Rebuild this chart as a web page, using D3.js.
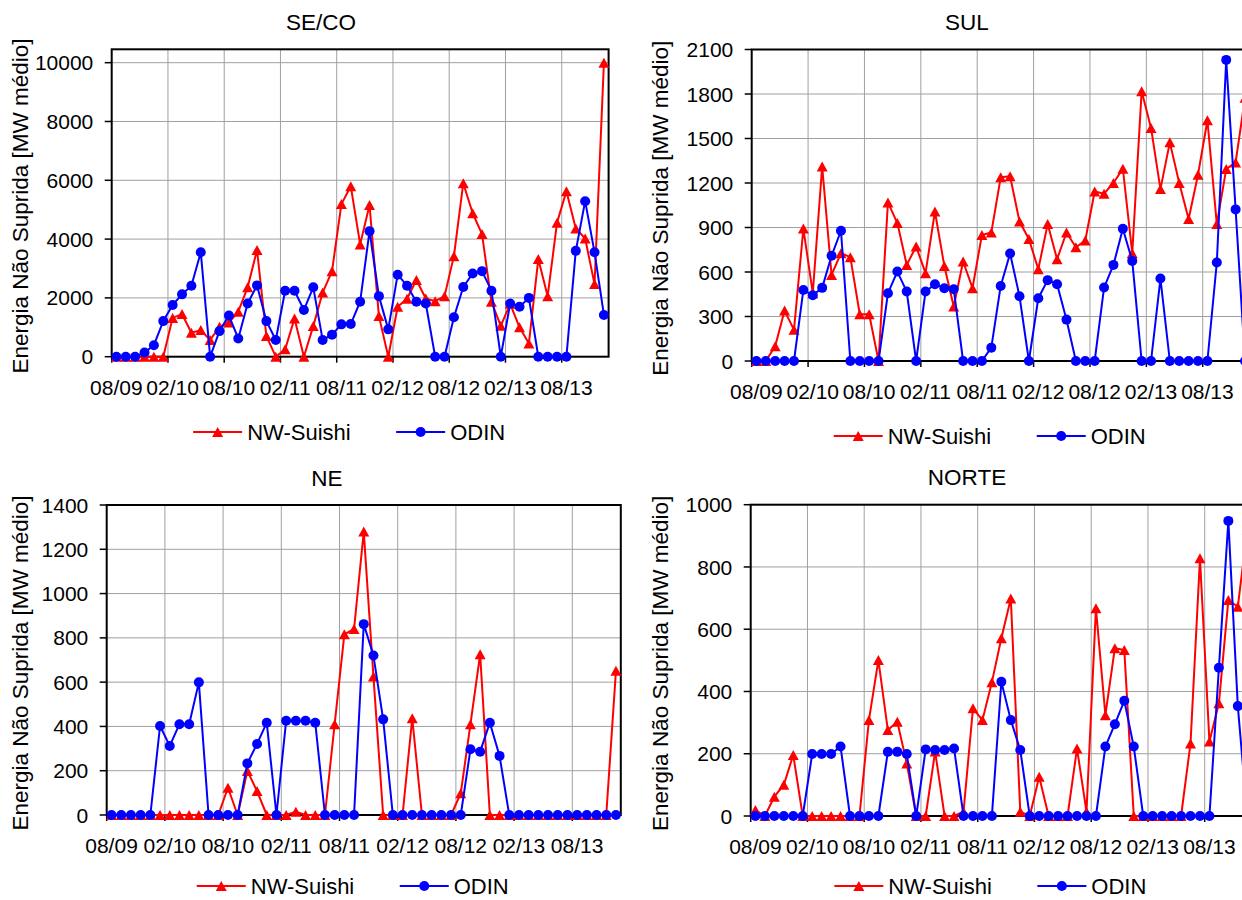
<!DOCTYPE html>
<html>
<head>
<meta charset="utf-8">
<script src="https://cdn.jsdelivr.net/npm/d3@7"></script>
<style>
  body { margin: 0; background: #fff; }
  svg { display: block; }
  text { font-family: "Liberation Sans", Arial, Helvetica, sans-serif; fill: #000; }
</style>
</head>
<body>
<svg id="chart" width="1242" height="900"></svg>
<script>
// Monthly categories, Aug 2009 – Dec 2013
const months = [
  "08/09","09/09","10/09","11/09","12/09",
  "01/10","02/10","03/10","04/10","05/10","06/10","07/10","08/10","09/10","10/10","11/10","12/10",
  "01/11","02/11","03/11","04/11","05/11","06/11","07/11","08/11","09/11","10/11","11/11","12/11",
  "01/12","02/12","03/12","04/12","05/12","06/12","07/12","08/12","09/12","10/12","11/12","12/12",
  "01/13","02/13","03/13","04/13","05/13","06/13","07/13","08/13","09/13","10/13","11/13","12/13"
];
// labelled categories (every six months)
const xTickLabels = ["08/09","02/10","08/10","02/11","08/11","02/12","08/12","02/13","08/13"];
const seriesNames = ["NW-Suishi", "ODIN"];

// SE/CO – energia não suprida [MW médio]
const secoNW = [0,0,0,0,0,0,1320,1450,815,905,570,1020,1160,1530,2360,3630,700,0,250,1300,0,1040,2180,2910,5190,5800,
  3820,5160,1380,0,1700,1970,2610,1980,1890,2060,3420,5900,4880,4170,1870,1050,1800,1000,450,3320,2060,4560,5630,4360,4020,2470,10000];
const secoODIN = [0,0,0,140,390,1210,1760,2120,2415,3550,0,870,1400,620,1810,2425,1210,570,2245,2245,1590,2360,570,750,1100,1110,
  1870,4270,2060,930,2790,2415,1870,1810,0,0,1340,2370,2830,2910,2245,0,1810,1700,2000,0,0,0,0,3600,5290,3550,1420];
const secoTicks = [0,2000,4000,6000,8000,10000];

// SUL
const sulNW = [0,0,100,340,210,893,457,1312,580,727,700,315,315,0,1069,930,648,772,592,1008,641,367,671,491,850,866,
  1238,1245,941,822,619,923,686,866,767,812,1143,1128,1200,1296,727,1818,1571,1159,1474,1200,957,1256,1623,923,1294,1339,1774];
const sulODIN = [0,0,0,0,0,479,443,493,709,878,0,0,0,0,457,603,468,0,468,518,491,484,0,0,0,90,
  506,725,437,0,423,545,518,279,0,0,0,495,648,891,675,0,0,556,0,0,0,0,0,664,2030,1022,0];
const sulTicks = [0,300,600,900,1200,1500,1800,2100];

// NE
const neNW = [0,0,0,0,0,0,0,0,0,0,0,0,123,0,199,108,0,0,0,15,0,0,0,410,816,840,
  1280,625,0,0,0,437,0,0,0,0,98,410,726,0,0,0,0,0,0,0,0,0,0,0,0,0,651];
const neODIN = [0,0,0,0,0,402,312,410,410,599,0,0,0,0,233,321,417,0,426,426,426,417,0,0,0,0,
  862,720,432,0,0,0,0,0,0,0,0,297,286,417,267,0,0,0,0,0,0,0,0,0,0,0,0];
const neTicks = [0,200,400,600,800,1000,1200,1400];

// NORTE
const norteNW = [19,0,62,100,196,0,0,0,0,0,0,0,308,501,276,303,169,0,0,207,0,0,14,346,308,430,
  571,699,14,0,126,0,0,0,217,14,667,324,539,533,0,0,0,0,0,0,233,828,239,362,694,672,920];
const norteODIN = [0,0,0,0,0,0,199,199,199,223,0,0,0,0,206,206,199,0,214,212,212,217,0,0,0,0,
  431,308,212,0,0,0,0,0,0,0,0,223,295,370,223,0,0,0,0,0,0,0,0,476,948,353,0];
const norteTicks = [0,200,400,600,800,1000];

const yTitle = "Energia Não Suprida [MW médio]";
const colors = { nw: "#ff0000", odin: "#0000ff" };

// layout of each of the four small charts
const panels = [
  { title: "SE/CO", nw: secoNW, odin: secoODIN, ticks: secoTicks, yMax: 10455,
    left: 111.7, right: 608.6, top: 49.3, bottom: 356.7, titleX: 321, yTitleX: 28, legendY: 432 },
  { title: "SUL", nw: sulNW, odin: sulODIN, ticks: sulTicks, yMax: 2100,
    left: 751.7, right: 1249.7, top: 49.5, bottom: 361, titleX: 967, yTitleX: 668, legendY: 436 },
  { title: "NE", nw: neNW, odin: neODIN, ticks: neTicks, yMax: 1400,
    left: 106.7, right: 620.8, top: 505, bottom: 815, titleX: 327, yTitleX: 28, legendY: 886 },
  { title: "NORTE", nw: norteNW, odin: norteODIN, ticks: norteTicks, yMax: 1000,
    left: 750.7, right: 1252.0, top: 504.7, bottom: 816, titleX: 967, yTitleX: 668, legendY: 886 }
];

const svg = d3.select("#chart");
const tri = (w, h) => `M0,${-h / 2}L${w / 2},${h / 2}L${-w / 2},${h / 2}Z`;
const triPath = tri(11, 10);
const fsTick = 21, fsTitle = 22.5, fsLegend = 22, fsAxisTitle = 22.5;

function drawPanel(p) {
  const g = svg.append("g");
  const x = d3.scaleBand().domain(months).range([p.left, p.right]).padding(0);
  const cx = m => x(m) + x.bandwidth() / 2;
  const y = d3.scaleLinear().domain([0, p.yMax]).range([p.bottom, p.top]);
  const tickCats = months.filter(m => xTickLabels.includes(m));

  // gridlines
  g.append("g").selectAll("line").data(p.ticks.filter(t => t > 0)).join("line")
    .attr("x1", p.left).attr("x2", p.right)
    .attr("y1", d => y(d)).attr("y2", d => y(d))
    .attr("stroke", "#a0a0a0").attr("stroke-width", 1);
  g.append("g").selectAll("line").data(tickCats.slice(1)).join("line")
    .attr("x1", d => x(d)).attr("x2", d => x(d))
    .attr("y1", p.top).attr("y2", p.bottom)
    .attr("stroke", "#a0a0a0").attr("stroke-width", 1);

  // plot frame
  g.append("rect")
    .attr("x", p.left).attr("y", p.top)
    .attr("width", p.right - p.left).attr("height", p.bottom - p.top)
    .attr("fill", "none").attr("stroke", "#000").attr("stroke-width", 2);

  // y axis ticks and labels
  const yt = g.append("g").selectAll("g").data(p.ticks).join("g")
    .attr("transform", d => `translate(0,${y(d)})`);
  yt.append("line").attr("x1", p.left - 7).attr("x2", p.left)
    .attr("stroke", "#000").attr("stroke-width", 1.5);
  yt.append("text").attr("x", p.left - 18.4).attr("dy", "0.36em")
    .attr("text-anchor", "end").attr("font-size", fsTick).text(d => d);

  // x axis ticks and labels
  g.append("g").selectAll("line").data(tickCats).join("line")
    .attr("x1", d => x(d)).attr("x2", d => x(d))
    .attr("y1", p.bottom).attr("y2", p.bottom + 6)
    .attr("stroke", "#000").attr("stroke-width", 1.5);
  g.append("g").selectAll("text").data(tickCats).join("text")
    .attr("x", d => cx(d)).attr("y", p.bottom + 38)
    .attr("text-anchor", "middle").attr("font-size", fsTick).text(d => d);

  // titles
  g.append("text").attr("x", p.titleX).attr("y", p.top - 19.3)
    .attr("text-anchor", "middle").attr("font-size", fsTitle).text(p.title);
  g.append("text")
    .attr("transform", `translate(${p.yTitleX},${(p.top + p.bottom) / 2 + 3}) rotate(-90)`)
    .attr("text-anchor", "middle").attr("font-size", fsAxisTitle).text(yTitle);

  // series: NW-Suishi first, ODIN drawn over it
  const line = d3.line().x((d, i) => cx(months[i])).y(d => y(d));
  const series = [
    { vals: p.nw, color: colors.nw, marker: "tri" },
    { vals: p.odin, color: colors.odin, marker: "circ" }
  ];
  series.forEach(s => {
    g.append("path").datum(s.vals).attr("d", line)
      .attr("fill", "none").attr("stroke", s.color).attr("stroke-width", 2)
      .attr("stroke-linejoin", "round");
    const mk = g.append("g").selectAll("path").data(s.vals).join(s.marker === "tri" ? "path" : "circle");
    if (s.marker === "tri") {
      mk.attr("d", triPath).attr("fill", s.color)
        .attr("transform", (d, i) => `translate(${cx(months[i])},${y(d)})`);
    } else {
      mk.attr("cx", (d, i) => cx(months[i])).attr("cy", d => y(d)).attr("r", 5).attr("fill", s.color);
    }
  });

  // legend
  const lc = (p.left + p.right) / 2 - 12;
  const ly = p.legendY;
  const items = [
    { name: seriesNames[0], color: colors.nw, marker: "tri", x0: lc - 155 },
    { name: seriesNames[1], color: colors.odin, marker: "circ", x0: lc + 48 }
  ];
  items.forEach(it => {
    const lg = g.append("g");
    lg.append("line").attr("x1", it.x0).attr("x2", it.x0 + 49).attr("y1", ly).attr("y2", ly)
      .attr("stroke", it.color).attr("stroke-width", 2);
    if (it.marker === "tri") {
      lg.append("path").attr("d", triPath).attr("fill", it.color)
        .attr("transform", `translate(${it.x0 + 24.5},${ly})`);
    } else {
      lg.append("circle").attr("cx", it.x0 + 24.5).attr("cy", ly).attr("r", 5).attr("fill", it.color);
    }
    lg.append("text").attr("x", it.x0 + 54).attr("y", ly).attr("dy", "0.36em")
      .attr("font-size", fsLegend).text(it.name);
  });
}

panels.forEach(drawPanel);
</script>
</body>
</html>
